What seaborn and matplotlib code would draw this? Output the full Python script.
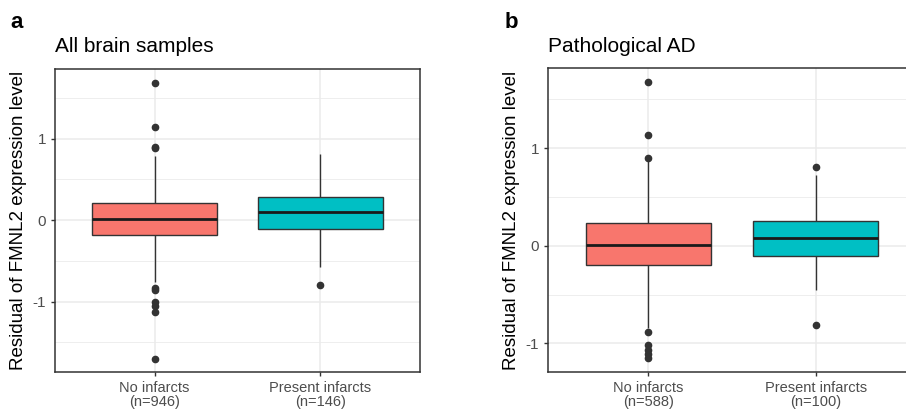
import numpy as np
import pandas as pd
import matplotlib
matplotlib.use("Agg")
import matplotlib.pyplot as plt
import seaborn as sns
from matplotlib.ticker import MultipleLocator

# ---- data (box summaries + outliers) ----
groups = ["No infarcts\n(n=946)", "Present infarcts\n(n=146)"]
groups_b = ["No infarcts\n(n=588)", "Present infarcts\n(n=100)"]

# panel a
a_q1 = [-0.184, -0.11]
a_med = [0.012, 0.094]
a_q3 = [0.212, 0.278]
a_wlo = [-0.757, -0.573]
a_whi = [0.785, 0.81]
a_out_lo = [[-0.83, -0.86, -1.0, -1.06, -1.13, -1.70], [-0.80]]
a_out_hi = [[0.88, 0.90, 1.14, 1.677], []]

# panel b
b_q1 = [-0.20, -0.105]
b_med = [0.007, 0.079]
b_q3 = [0.235, 0.255]
b_wlo = [-0.84, -0.45]
b_whi = [0.875, 0.72]
b_out_lo = [[-0.885, -1.02, -1.07, -1.11, -1.145], [-0.816]]
b_out_hi = [[0.90, 1.133, 1.672], [0.806]]

palette_cols = ["#F8766D", "#00BFC4"]


def build(groups, q1, med, q3, wlo, whi, out_lo, out_hi, block=40):
    rows = []
    for i, g in enumerate(groups):
        vals = (list(out_lo[i]) + [wlo[i]] + [q1[i]] * block + [med[i]] * block
                + [q3[i]] * block + [whi[i]] + list(out_hi[i]))
        rows += [(g, v) for v in vals]
    return pd.DataFrame(rows, columns=["group", "value"])


df_a = build(groups, a_q1, a_med, a_q3, a_wlo, a_whi, a_out_lo, a_out_hi)
df_b = build(groups_b, b_q1, b_med, b_q3, b_wlo, b_whi, b_out_lo, b_out_hi)

sns.set_theme(style="white")
plt.rcParams["font.family"] = ["Liberation Sans", "DejaVu Sans"]
plt.rcParams["axes.unicode_minus"] = False

W, H = 906, 412
fig = plt.figure(figsize=(W / 100, H / 100), dpi=100)


def frac(l, t, r, b):
    return [l / W, 1 - b / H, (r - l) / W, (b - t) / H]


ax_a = fig.add_axes(frac(55, 69, 420, 372))
ax_b = fig.add_axes(frac(548, 68, 916, 372))


def draw(ax, df, cats, ylim, title, letter, letter_x, title_x):
    sns.boxplot(data=df, x="group", y="value", hue="group", order=cats,
                hue_order=cats, palette=palette_cols, saturation=1,
                width=0.75, linecolor="#333333", linewidth=1.0,
                showcaps=False, whis=1.5, fliersize=4.5, legend=False, ax=ax,
                medianprops=dict(color="#1a1a1a", linewidth=2.0),
                flierprops=dict(marker="o", markerfacecolor="#333333",
                                markeredgecolor="#333333"))
    ax.set_xlim(-0.6, 1.6)
    ax.set_ylim(*ylim)
    ax.yaxis.set_major_locator(MultipleLocator(1))
    ax.yaxis.set_minor_locator(MultipleLocator(0.5))
    ax.set_axisbelow(True)
    ax.grid(which="major", color="#EBEBEB", linewidth=1.1)
    ax.grid(which="minor", axis="y", color="#EBEBEB", linewidth=0.6)
    for s in ax.spines.values():
        s.set_color("#333333")
        s.set_linewidth(1.1)
    ax.tick_params(axis="both", which="major", length=3, width=1,
                   color="#333333", labelcolor="#4D4D4D", labelsize=11,
                   left=True, bottom=True)
    ax.tick_params(axis="y", which="minor", length=0)
    ax.set_xlabel("")
    ax.set_ylabel("Residual of FMNL2 expression level", fontsize=13.5,
                  color="black", labelpad=4)
    for lab in ax.get_xticklabels():
        lab.set_fontsize(10.5)
        lab.set_linespacing(1.0)
    fig.text(title_x / W, 1 - 47 / H, title, fontsize=15, va="center",
             ha="left", color="black")
    fig.text(letter_x / W, 1 - 23 / H, letter, fontsize=16, fontweight="bold",
             va="center", ha="left", color="black")


draw(ax_a, df_a, groups, (-1.865, 1.853), "All brain samples", "a", 10, 55)
draw(ax_b, df_b, groups_b, (-1.293, 1.819), "Pathological AD", "b", 505, 548)

fig.savefig("out.png", dpi=100)
